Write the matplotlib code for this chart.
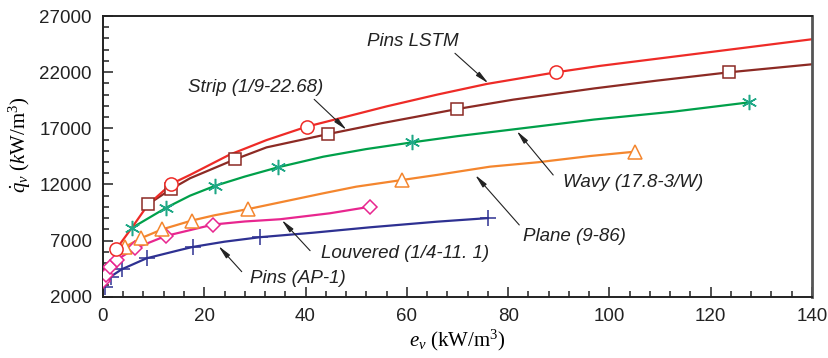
import matplotlib.pyplot as plt
from matplotlib.ticker import MultipleLocator

plt.rcParams['font.family'] = ['Liberation Sans', 'DejaVu Sans']
plt.rcParams['mathtext.fontset'] = 'custom'
plt.rcParams['mathtext.rm'] = 'Liberation Serif'
plt.rcParams['mathtext.it'] = 'Liberation Serif:italic'

# Pins LSTM (red, circles)
lstm_x = [2.6, 5.8, 8.9, 13.5, 17.2, 25, 32.3, 40.2, 48, 56, 66, 75.8, 89.5, 98, 118, 140]
lstm_y = [6220, 8200, 10200, 12050, 12850, 14650, 15950, 17140, 18030, 18950, 20000, 20950, 21990, 22550, 23680, 24930]
lstm_mx = [2.6, 13.5, 40.2, 89.5]
lstm_my = [6220, 12050, 17140, 21990]

# Strip (brown, squares)
strip_x = [8.9, 13.5, 17.2, 26.1, 32.3, 44.5, 55, 61.3, 70, 81, 97, 109.3, 123.7, 140]
strip_y = [10230, 11600, 12550, 14240, 15300, 16490, 17450, 17980, 18720, 19550, 20550, 21240, 21990, 22700]
strip_mx = [8.9, 13.5, 26.1, 44.5, 70, 123.7]
strip_my = [10230, 11600, 14240, 16490, 18720, 21990]

# Wavy (green, stars)
wavy_x = [5.8, 12.5, 17.2, 22.1, 28, 34.6, 43.5, 52, 61.1, 70, 81, 97, 112.6, 127.6]
wavy_y = [8150, 9930, 11000, 11870, 12700, 13530, 14470, 15150, 15750, 16300, 16900, 17780, 18480, 19310]
wavy_mx = [5.8, 12.5, 22.1, 34.6, 61.1, 127.6]
wavy_my = [8150, 9930, 11870, 13530, 15750, 19310]

# Plane (orange, triangles)
plane_x = [3.1, 4.3, 7.6, 11.7, 17.5, 22, 28.6, 36, 43.5, 50, 59, 66, 76.4, 86, 96.2, 105.1]
plane_y = [5900, 6430, 7230, 8000, 8780, 9250, 9800, 10500, 11210, 11800, 12390, 12850, 13580, 13980, 14530, 14920]
plane_mx = [4.3, 7.6, 11.7, 17.5, 28.6, 59, 105.1]
plane_my = [6430, 7230, 8000, 8780, 9800, 12390, 14920]

# Louvered (magenta, diamonds)
louv_x = [0.06, 0.6, 1.4, 2.7, 6.3, 12.4, 21.8, 28, 35, 44.8, 52.8]
louv_y = [3430, 3930, 4670, 5270, 6310, 7410, 8430, 8700, 8900, 9430, 10020]
louv_mx = [0.06, 0.6, 1.4, 2.7, 6.3, 12.4, 21.8, 52.8]
louv_my = [3430, 3930, 4670, 5270, 6310, 7410, 8430, 10020]

# Pins AP-1 (blue, plus)
ap_x = [0.33, 1.5, 3.7, 8.6, 15.2, 17.7, 24, 31, 41.5, 52.7, 65.9, 76]
ap_y = [2900, 3780, 4440, 5420, 6160, 6430, 6900, 7300, 7700, 8180, 8680, 9000]
ap_mx = [0.33, 1.5, 3.7, 8.6, 17.7, 31, 76]
ap_my = [2900, 3780, 4440, 5420, 6430, 7300, 9000]

y_ticks = [2000, 7000, 12000, 17000, 22000, 27000]

fig = plt.figure(figsize=(8.29, 3.58), dpi=100)
ax = fig.add_axes([0.1242, 0.1712, 0.8553, 0.7841])

series = [
    (lstm_x, lstm_y, lstm_mx, lstm_my, '#ee2b27', '#ee2b27', 'o', 9.5),
    (strip_x, strip_y, strip_mx, strip_my, '#8c2a24', '#8c2a24', 's', 9),
    (wavy_x, wavy_y, wavy_mx, wavy_my, '#00a04a', '#1fa886', (6, 2, 0), 11),
    (plane_x, plane_y, plane_mx, plane_my, '#f4862e', '#f4862e', '^', 9.5),
    (louv_x, louv_y, louv_mx, louv_my, '#e8268f', '#e8268f', 'D', 7.5),
    (ap_x, ap_y, ap_mx, ap_my, '#2e3192', '#2e3192', '+', 12),
]
for lx, ly, mx, my, lc, mc, mk, ms in series[::-1]:
    ax.plot(lx, ly, '-', color=lc, lw=1.6, zorder=2)
    ax.plot(mx, my, linestyle='none', marker=mk, ms=ms, mfc='white',
            mec=mc, mew=1.1, zorder=3)

arrow = dict(arrowstyle='-|>,head_length=0.8,head_width=0.15', color='#222222',
             lw=0.8, shrinkA=0, shrinkB=0)
notes = [
    ('Pins LSTM', (61.2, 24700), (69.5, 23680), (76.1, 21006)),
    ('Strip (1/9-22.68)', (30.1, 20650), (41.7, 19580), (48.1, 16850)),
    ('Wavy (17.8-3/W)', (104.7, 12150), (88.9, 12840), (81.7, 16760)),
    ('Plane (9-86)', (93.0, 7345), (82.2, 8390), (73.5, 12840)),
    ('Louvered (1/4-11. 1)', (59.6, 5870), (40.9, 6100), (35.3, 8830)),
    ('Pins (AP-1)', (38.4, 3640), (27.4, 4230), (22.8, 6520)),
]
for txt, pos, tail, head in notes:
    ax.text(pos[0], pos[1], txt, style='italic', fontsize=13.5,
            ha='center', va='center', color='#222222')
    ax.annotate('', xy=head, xytext=tail, arrowprops=arrow)

ax.set_xlim(0, 140)
ax.set_ylim(2000, 27000)
ax.xaxis.set_major_locator(MultipleLocator(20))
ax.xaxis.set_minor_locator(MultipleLocator(4))
ax.set_yticks(y_ticks)
ax.yaxis.set_minor_locator(MultipleLocator(1000))
ax.tick_params(which='both', direction='in', top=False, right=False,
               labelsize=13.5, width=1.1, colors='#222222')
ax.tick_params(which='major', length=7, pad=8)
ax.tick_params(which='minor', length=4)
for side in ['left', 'bottom', 'top']:
    ax.spines[side].set_linewidth(1.4)
    ax.spines[side].set_color('#222222')
ax.spines['right'].set_linewidth(2)
ax.spines['right'].set_color('#555555')

ax.set_xlabel(r'$e_v\ (\mathrm{kW/m}^3)$', fontsize=15, labelpad=2)
ax.set_ylabel(r'$\dot{q}_v\ (k\mathrm{W/m}^3)$', fontsize=15, labelpad=6)
ax.yaxis.set_label_coords(-0.098, 0.54)

fig.savefig('out.png', dpi=100)
